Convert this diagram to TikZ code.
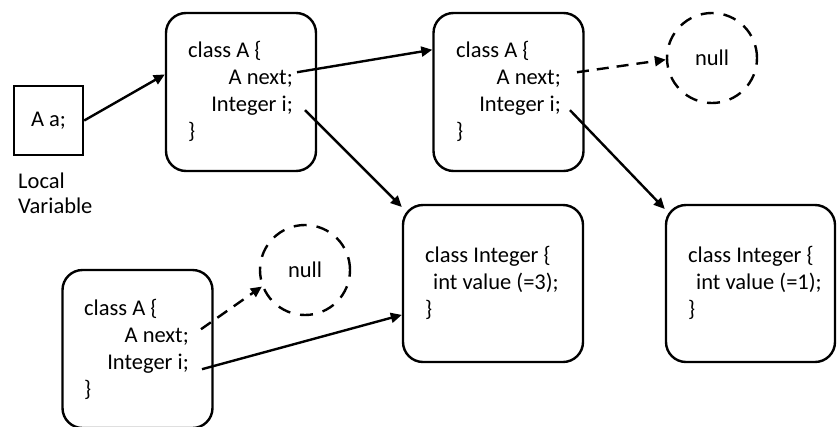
\documentclass[tikz,border=0pt]{standalone}
\usepackage{fontspec}
\setmainfont{Carlito}
\usetikzlibrary{arrows.meta}

\tikzset{
  code/.style={inner sep=0pt, font=\fontsize{22.5}{26}\selectfont},
  varbox/.style={draw, line width=2.4pt, minimum width=69pt, minimum height=69pt, inner sep=0pt, font=\fontsize{22.5}{26}\selectfont},
  objbox/.style={draw, line width=2.4pt, rounded corners=20pt, minimum width=150pt, minimum height=158pt},
  intbox/.style={objbox, minimum width=180pt, minimum height=157pt},
  nullcirc/.style={draw, circle, line width=2.4pt, dash pattern=on 13pt off 10pt, minimum size=90pt, inner sep=0pt, font=\fontsize{22.5}{26}\selectfont},
  ref/.style={line width=2.4pt, -{Triangle[length=11pt,width=10pt]}},
  nullref/.style={ref, dash pattern=on 12pt off 8pt}
}

\begin{document}
\begin{tikzpicture}[x=1pt, y=-1pt]
\useasboundingbox (0,0) rectangle (837,426);

% local variable
\node[varbox] (var) at (48.5,120.5) {A a;};
\node[code, anchor=north west, align=left, font=\fontsize{22.5}{25}\selectfont] (varlbl) at (18,173) {Local\\Variable};

% objects of class A
\node[objbox] (a1) at (241,92) {};
\node[code, anchor=base west] (a1cls) at (188,57) {class A \{};
\node[code, anchor=base east] (a1next) at (293,84) {A next;};
\node[code, anchor=base east] (a1int) at (293,111) {Integer i;};
\node[code, anchor=base west] (a1end) at (188,138) {\}};

\node[objbox] (a2) at (508.5,92) {};
\node[code, anchor=base west] (a2cls) at (456,57) {class A \{};
\node[code, anchor=base east] (a2next) at (561,84) {A next;};
\node[code, anchor=base east] (a2int) at (561,111) {Integer i;};
\node[code, anchor=base west] (a2end) at (456,138) {\}};

\node[objbox] (a3) at (137.5,349) {};
\node[code, anchor=base west] (a3cls) at (84,315) {class A \{};
\node[code, anchor=base east] (a3next) at (189,342) {A next;};
\node[code, anchor=base east] (a3int) at (189,369) {Integer i;};
\node[code, anchor=base west] (a3end) at (84,396) {\}};

% Integer objects
\node[intbox] (i3) at (493,283.5) {};
\node[code, anchor=base west] (i3cls) at (425,262) {class Integer \{};
\node[code, anchor=base west] (i3val) at (433,289) {int value (=3);};
\node[code, anchor=base west] (i3end) at (425,316) {\}};

\node[intbox, minimum width=169pt] (i1) at (750.5,283.5) {};
\node[code, anchor=base west] (i1cls) at (688,262) {class Integer \{};
\node[code, anchor=base west] (i1val) at (696,289) {int value (=1);};
\node[code, anchor=base west] (i1end) at (688,316) {\}};

% null references
\node[nullcirc] (null1) at (712,58) {null};
\node[nullcirc] (null2) at (305,270) {null};

% references
\draw[ref] (var.east) -- (a1.167);
\draw[ref] ([xshift=4pt,yshift=6pt]a1next.east) -- (a2.151);
\draw[ref] ([xshift=12pt,yshift=-5pt]a1int.east) -- (i3.140);
\draw[nullref] ([xshift=16pt,yshift=6pt]a2next.east) -- (null1.182);
\draw[ref] ([xshift=9pt,yshift=-5pt]a2int.east) -- (i1.139);
\draw[nullref] ([xshift=12pt,yshift=7pt]a3next.east) -- (null2.201);
\draw[ref] ([xshift=13pt,yshift=-6pt]a3int.east) -- (i3.199);
\end{tikzpicture}
\end{document}
